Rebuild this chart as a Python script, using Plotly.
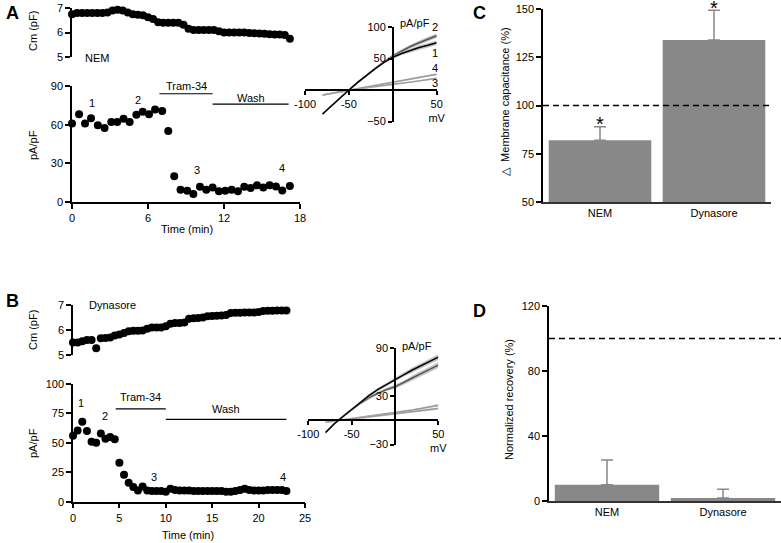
import plotly.graph_objects as go

W, H = 781, 543

# ---------------- data ----------------
# A : NEM
cm_time_a = [0, 0.4, 0.8, 1.2, 1.6, 2.0, 2.4, 2.8, 3.2, 3.6, 4.0, 4.4, 4.8, 5.2, 5.6, 6.0, 6.4, 6.8, 7.2, 7.6,
             8.0, 8.4, 8.8, 9.2, 9.6, 10.0, 10.4, 10.8, 11.2, 11.6, 12.0, 12.4, 12.8, 13.2, 13.6, 14.0, 14.4,
             14.8, 15.2, 15.6, 16.0, 16.4, 16.8, 17.2]
cm_a = [6.75, 6.8, 6.8, 6.8, 6.8, 6.8, 6.8, 6.82, 6.9, 6.93, 6.9, 6.82, 6.75, 6.72, 6.7, 6.62, 6.55, 6.42,
        6.4, 6.4, 6.4, 6.4, 6.32, 6.15, 6.1, 6.1, 6.1, 6.1, 6.1, 6.05, 6.0, 6.0, 6.0, 6.0, 6.0, 5.98, 5.97,
        5.96, 5.95, 5.93, 5.92, 5.92, 5.9, 5.75]
cur_time_a = [0, 0.56, 1.03, 1.5, 2.04, 2.57, 3.1, 3.57, 4.07, 4.55, 5.08, 5.58, 6.08, 6.56, 7.12, 7.6, 8.07,
              8.57, 9.1, 9.58, 10.1, 10.6, 11.1, 11.6, 12.1, 12.6, 13.1, 13.6, 14.1, 14.6, 15.1, 15.6, 16.1,
              16.6, 17.2]
cur_a = [61, 68, 61, 65, 59.6, 57.5, 62, 62, 64.5, 62, 67.6, 70, 68, 71.7, 70.7, 55, 20, 9.5, 8.8, 6.2,
         11.9, 9.5, 11.3, 8.3, 8.8, 9.5, 8.3, 11.9, 10.8, 12.9, 11.3, 12.9, 12, 9, 12.4]
tram_a = [6.9, 11.1]
wash_a = [11.1, 17.1]

# B : Dynasore
cm_time_b = [i * 0.5 for i in range(47)]
cm_b = [5.5, 5.5, 5.55, 5.6, 5.6, 5.27, 5.67, 5.68, 5.7, 5.78, 5.82, 5.88, 5.95, 5.97, 5.97, 5.98, 6.05,
        6.1, 6.1, 6.1, 6.15, 6.25, 6.28, 6.28, 6.3, 6.45, 6.47, 6.48, 6.5, 6.55, 6.56, 6.57, 6.58, 6.6,
        6.68, 6.69, 6.69, 6.7, 6.7, 6.7, 6.72, 6.76, 6.77, 6.77, 6.78, 6.78, 6.78]
cur_time_b = [i * 0.5 for i in range(47)]
cur_b = [56, 60.5, 68, 60, 51, 50, 58, 53.5, 55, 53, 33, 23, 16, 12.5, 9.5, 13, 9.5, 9, 9, 9, 8.5, 11,
         10, 9.5, 9.5, 9.5, 9, 9, 9, 9, 9, 9, 9, 8.5, 8.5, 9, 10, 11, 10, 9.5, 9.5, 9.5, 10, 10, 10, 10, 9]
tram_b = [4.6, 10.0]
wash_b = [10.0, 23.0]

# I-V relations (mV, pA/pF)
mv = [-80, -70, -60, -50, -40, -30, -20, -10, 0, 10, 20, 30, 40, 50]
iv_a1 = [-38, -25, -12.5, 0, 12, 23.5, 34, 44, 52, 58, 63, 67.5, 71, 75]
iv_a2 = [-38, -25, -12.5, 0, 12, 23.5, 34.5, 45, 54, 62, 69, 75, 81, 86]
iv_a3 = [-8, -5.5, -2.8, 0, 2, 3.8, 5.5, 7, 8.8, 10.5, 12.5, 14.5, 16.5, 18.5]
iv_a4 = [-8, -5.5, -2.8, 0, 2.4, 4.6, 7, 9.5, 12, 14.5, 17, 19.5, 22, 25]
iv_b1 = [-15, -4, 5, 14, 23, 31, 38.5, 45, 51, 57, 63, 68.5, 74, 79]
iv_b2 = [-15, -4, 5, 13.5, 21.5, 28.5, 34, 38.5, 42, 47, 53, 58.5, 64, 69]
iv_b3 = [-2, -0.5, 1, 2.5, 3.8, 5, 6.5, 8, 9.5, 11.3, 13, 15, 17, 19]
iv_b4 = [-2, -0.5, 1, 2.3, 3.5, 4.6, 5.8, 7, 8.3, 9.5, 10.8, 12.2, 13.6, 15]
sem_iv = [1.5, 1.5, 1.5, 1.5, 1.5, 2, 2, 2, 2.5, 2.5, 3, 3, 3.5, 3.5]
sem_iv_small = [1, 1, 1, 1, 1, 1, 1, 1, 1, 1, 1.2, 1.2, 1.4, 1.5]

# C and D bars
groups = ["NEM", "Dynasore"]
cap_mean = [82, 134]
cap_err = [7, 15.3]
rec_mean = [10, 1.8]
rec_err = [15.3, 5.4]

FONT = "Liberation Sans, Arial, sans-serif"
BAR = "#888888"


def px(x):
    return x / W


def py(y):
    return 1 - y / H


fig = go.Figure()

dot = dict(color="black", size=8)
fig.add_trace(go.Scatter(x=cm_time_a, y=cm_a, mode="markers", marker=dot, xaxis="x", yaxis="y", cliponaxis=False))
fig.add_trace(go.Scatter(x=cur_time_a, y=cur_a, mode="markers", marker=dot, xaxis="x2", yaxis="y2", cliponaxis=False))
fig.add_trace(go.Scatter(x=cm_time_b, y=cm_b, mode="markers", marker=dot, xaxis="x6", yaxis="y6", cliponaxis=False))
fig.add_trace(go.Scatter(x=cur_time_b, y=cur_b, mode="markers", marker=dot, xaxis="x7", yaxis="y7", cliponaxis=False))


def iv_trace(y, sem, color, band, xa, ya):
    up = [a + s for a, s in zip(y, sem)]
    lo = [a - s for a, s in zip(y, sem)]
    fig.add_trace(go.Scatter(x=mv + mv[::-1], y=up + lo[::-1], fill="toself", fillcolor=band,
                             line=dict(width=0), mode="lines", xaxis=xa, yaxis=ya, hoverinfo="skip"))
    fig.add_trace(go.Scatter(x=mv, y=y, mode="lines", line=dict(color=color, width=1.5),
                             xaxis=xa, yaxis=ya))


iv_trace(iv_a3, sem_iv_small, "#9a9a9a", "#d6d6d6", "x3", "y3")
iv_trace(iv_a4, sem_iv_small, "#9a9a9a", "#d6d6d6", "x3", "y3")
iv_trace(iv_a2, sem_iv, "#555555", "#c4c4c4", "x3", "y3")
iv_trace(iv_a1, sem_iv, "black", "#c4c4c4", "x3", "y3")
iv_trace(iv_b3, sem_iv_small, "#9a9a9a", "#d6d6d6", "x8", "y8")
iv_trace(iv_b4, sem_iv_small, "#9a9a9a", "#d6d6d6", "x8", "y8")
iv_trace(iv_b2, sem_iv, "#555555", "#c4c4c4", "x8", "y8")
iv_trace(iv_b1, sem_iv, "black", "#c4c4c4", "x8", "y8")

err = dict(type="data", symmetric=False, arrayminus=[0, 0], color=BAR, thickness=1.5, width=6)
fig.add_trace(go.Bar(x=groups, y=cap_mean, marker=dict(color=BAR, line=dict(width=0)),
                     error_y=dict(err, array=cap_err), xaxis="x4", yaxis="y4"))
fig.add_trace(go.Bar(x=groups, y=rec_mean, marker=dict(color=BAR, line=dict(width=0)),
                     error_y=dict(err, array=rec_err), xaxis="x5", yaxis="y5"))

tickfont = dict(family=FONT, size=11, color="black")
base = dict(showgrid=False, zeroline=False, showline=True, linecolor="black", linewidth=1.5, automargin=False,
            ticks="outside", ticklen=5, tickwidth=1.5, tickcolor="black", tickfont=tickfont)
cat = dict(showline=True, linecolor="#333333", linewidth=2, ticks="", tickfont=tickfont,
           showgrid=False, zeroline=False, automargin=False)

layout = dict(
    template="none",
    width=W, height=H, margin=dict(l=0, r=0, t=0, b=0, pad=0), showlegend=False,
    paper_bgcolor="white", plot_bgcolor="white", font=dict(family=FONT, color="black"),
    bargap=0.1,
    # A
    xaxis=dict(domain=[px(72), px(300)], range=[0, 18], visible=False, anchor="y", automargin=False),
    yaxis=dict(base, domain=[py(57), py(8)], range=[5, 7], tickvals=[5, 6, 7], anchor="x"),
    xaxis2=dict(base, domain=[px(72), px(300)], range=[0, 18], tickvals=[0, 6, 12, 18], anchor="y2"),
    yaxis2=dict(base, domain=[py(202), py(86)], range=[0, 90], tickvals=[0, 30, 60, 90], anchor="x2"),
    xaxis3=dict(base, domain=[px(305), px(436.7)], range=[-100, 50], tickvals=[-100, -50, 50],
                ticktext=["-100", "-50", "50<br>mV"], anchor="free", position=py(90), ticklen=4),
    yaxis3=dict(base, domain=[py(121.5), py(27)], range=[-50, 100], tickvals=[-50, 50, 100],
                anchor="free", position=px(392.8), ticklen=4),
    # C
    xaxis4=dict(cat, domain=[px(543), px(771)], anchor="y4"),
    yaxis4=dict(base, domain=[py(202), py(9)], range=[50, 150], tickvals=[50, 75, 100, 125, 150], anchor="x4"),
    # D
    xaxis5=dict(cat, domain=[px(549), px(781)], anchor="y5"),
    yaxis5=dict(base, domain=[py(501), py(306)], range=[0, 120], tickvals=[0, 40, 80, 120], anchor="x5"),
    # B
    xaxis6=dict(domain=[px(73), px(305)], range=[0, 25], visible=False, anchor="y6", automargin=False),
    yaxis6=dict(base, domain=[py(355), py(305)], range=[5, 7], tickvals=[5, 6, 7], anchor="x6"),
    xaxis7=dict(base, domain=[px(73), px(305)], range=[0, 25], tickvals=[0, 5, 10, 15, 20, 25], anchor="y7"),
    yaxis7=dict(base, domain=[py(501.7), py(384)], range=[0, 100], tickvals=[0, 25, 50, 75, 100], anchor="x7"),
    xaxis8=dict(base, domain=[px(308.3), px(438.3)], range=[-100, 50], tickvals=[-100, -50, 50],
                ticktext=["-100", "-50", "50<br>mV"], anchor="free", position=py(420), ticklen=4),
    yaxis8=dict(base, domain=[py(445), py(348.3)], range=[-30.5, 90], tickvals=[-30, 30, 90],
                anchor="free", position=px(395), ticklen=4),
)
fig.update_layout(**layout)

ann = []


def text(x, y, t, size=11, xref="paper", yref="paper", angle=0, bold=False, xanchor="center", yanchor="middle"):
    ann.append(dict(x=x, y=y, text=("<b>%s</b>" % t) if bold else t, xref=xref, yref=yref, showarrow=False,
                    textangle=angle, xanchor=xanchor, yanchor=yanchor,
                    font=dict(family=FONT, size=size, color="black")))


# panel letters
text(px(4), py(13), "A", 18, bold=True, xanchor="left")
text(px(4), py(301), "B", 18, bold=True, xanchor="left")
text(px(471), py(13), "C", 18, bold=True, xanchor="left")
text(px(471), py(311), "D", 18, bold=True, xanchor="left")

# axis titles
text(px(33), py(31), "Cm (pF)", angle=-90)
text(px(33), py(145), "pA/pF", angle=-90)
text(px(187), py(229), "Time (min)")
text(px(33), py(330), "Cm (pF)", angle=-90)
text(px(33), py(443), "pA/pF", angle=-90)
text(px(188), py(535), "Time (min)")
text(px(505), py(102), "△  Membrane capacitance (%)", angle=-90)
text(px(509), py(400), "Normalized recovery (%)", angle=-90)
text(px(83), py(58), "NEM", xanchor="left")
text(px(87), py(305), "Dynasore", xanchor="left")
text(px(398), py(23), "pA/pF", xanchor="left")
text(px(400), py(346), "pA/pF", xanchor="left")

# sweep numbers
for t, v, s in [(1.6, 77, "1"), (5.2, 79, "2"), (9.9, 25, "3"), (16.6, 26, "4")]:
    text(t, v, s, xref="x2", yref="y2")
for t, v, s in [(0.9, 83.6, "1"), (3.5, 72.8, "2"), (8.7, 21, "3"), (22.6, 20.7, "4")]:
    text(t, v, s, xref="x7", yref="y7")
for v, i, s in [(48, 100, "2"), (48, 58, "1"), (48, 35, "4"), (48, 11, "3")]:
    text(v, i, s, xref="x3", yref="y3")
for v, i, s in [(51, 92, "1"), (51, 52, "2"), (51, 25, "3"), (51, 6.3, "4")]:
    text(v, i, s, xref="x8", yref="y8")

# drug application bars
shapes = []
for (t0, t1), lvl, lab, ly, xa, ya in [(tram_a, 84, "Tram-34", 90, "x2", "y2"), (wash_a, 76, "Wash", 81, "x2", "y2"),
                                     (tram_b, 78.8, "Tram-34", 88.7, "x7", "y7"), (wash_b, 70, "Wash", 79, "x7", "y7")]:
    shapes.append(dict(type="line", x0=t0, x1=t1, y0=lvl, y1=lvl, xref=xa, yref=ya,
                       line=dict(color="black", width=1.2)))
    text((t0 + t1) / 2, ly, lab, xref=xa, yref=ya)

# dashed 100 % lines
for xa, ya in [("x4", "y4"), ("x5", "y5")]:
    shapes.append(dict(type="line", x0=0, x1=1, y0=100, y1=100, xref=xa + " domain", yref=ya,
                       line=dict(color="black", width=1.5, dash="6px,4px")))

# significance stars
for g, m, e in zip(groups, cap_mean, cap_err):
    ann.append(dict(x=g, y=m + e, xref="x4", yref="y4", text="*", showarrow=False, yanchor="bottom",
                    yshift=-10.5, font=dict(family=FONT, size=20, color="black")))

fig.update_layout(annotations=ann, shapes=shapes)
# drop the default page margin so the figure fills the window exactly
fig.write_html("out.html", config={"displayModeBar": False},
               post_script="document.body.style.margin='0';")
